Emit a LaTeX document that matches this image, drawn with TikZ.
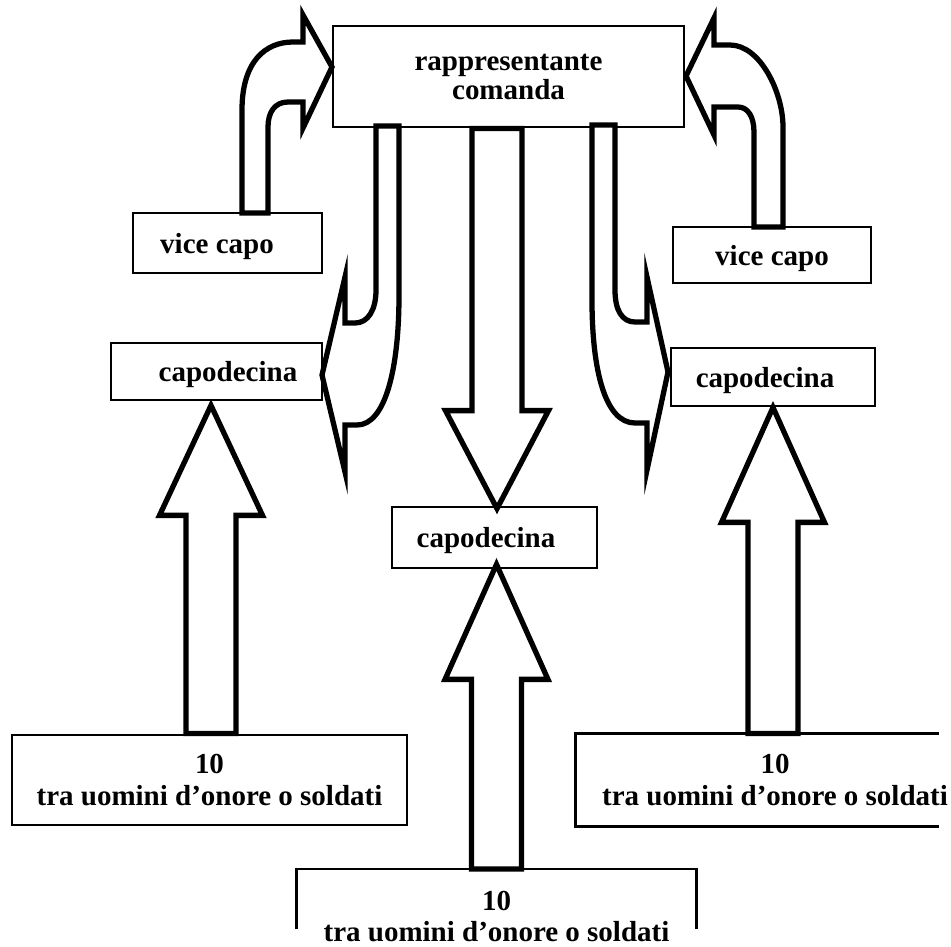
\documentclass[tikz,border=0pt]{standalone}
\usepackage{fontspec}
\setmainfont{Liberation Serif}
\usetikzlibrary{calc}

\tikzset{
  box/.style={draw, line width=1.6pt, inner sep=0pt, align=center, text depth=0pt,
    font=\bfseries\fontsize{16.5pt}{18pt}\selectfont},
  fat/.style={draw, fill=white, line width=3pt, line join=miter},
}
% straight block arrow: tail, tip, head length
\newcommand{\fatarrow}[3]{%
  \coordinate (hb) at ($(#2)!#3!(#1)$);
  \draw[fat] ($(#1)!0.5cm!90:(#2)$) -- ($(hb)!0.5cm!90:(#2)$) -- ($(hb)!1.03cm!90:(#2)$)
    -- (#2) -- ($(hb)!1.03cm!-90:(#2)$) -- ($(hb)!0.5cm!-90:(#2)$) -- ($(#1)!0.5cm!-90:(#2)$) -- cycle;
}

\begin{document}
\begin{tikzpicture}[x=0.02cm, y=-0.02cm]
  \useasboundingbox (0,0) rectangle (951,947);

  % boxes
  \node[box, minimum width=7.02cm, minimum height=2.02cm, font=\bfseries\fontsize{16.5pt}{16.5pt}\selectfont]
    (top) at (508.5,76.5) {rappresentante\\comanda};
  \node[box, minimum width=3.78cm, minimum height=1.2cm] (viceL) at (227.5,243) {vice capo\hspace*{0.42cm}};
  \node[box, minimum width=3.96cm, minimum height=1.12cm] (viceR) at (772,255) {vice capo};
  \node[box, minimum width=4.22cm, minimum height=1.14cm] (capL) at (216.5,371.5) {\hspace*{0.46cm}capodecina};
  \node[box, minimum width=4.1cm, minimum height=1.22cm] (capM) at (494.5,537.5) {capodecina\hspace*{0.34cm}};
  \node[box, minimum width=4.08cm, minimum height=1.16cm] (capR) at (773,377) {capodecina\hspace*{0.32cm}};
  \node[box, minimum width=7.9cm, minimum height=1.8cm] (botL) at (209.5,780) {10\\tra uomini d’onore o soldati};
  \node[box, draw=none, minimum width=7.92cm, minimum height=1.8cm] (botR) at (775,780) {10\\tra uomini d’onore o soldati};
  \draw[line width=1.6pt] (botR.north west) ++(363,0) -- (botR.north west) -- (botR.south west) -- ++(363,0);
  \node[box, draw=none, minimum width=7.94cm, minimum height=1.84cm, anchor=north] (botM) at (496.5,869) {10\\tra uomini d’onore o soldati};
  \draw[line width=1.6pt] (botM.north west) ++(0,60) -- (botM.north west) -- (botM.north east) -- ++(0,60);

  % curved arrows up to the top box
  \draw[fat] (242,213) -- (242,110) .. controls (242,62) and (265,42) .. (293,42) -- (303,42) -- (303,15)
    -- (332,67) -- (303,128) -- (303,102) -- (288,102) .. controls (275,102) and (268,112) .. (268,127) -- (268,213) -- cycle;
  \draw[fat] (783,227) -- (783,127) .. controls (783,92) and (760,45) .. (730,45) -- (714,45) -- (714,18)
    -- (686,76) -- (714,135) -- (714,107) -- (738,107) .. controls (748,107) and (754,117) .. (754,132) -- (754,227) -- cycle;

  % curved arrows down to the side capodecina
  \draw[fat] (376,126) -- (376,290) .. controls (376,310) and (368,323) .. (355,323) -- (345,323) -- (345,277)
    -- (322,375) -- (345,472) -- (345,425) -- (357,425) .. controls (385,425) and (399,370) .. (399,295) -- (399,126) -- cycle;
  \draw[fat] (615,125) -- (615,290) .. controls (615,310) and (622,322) .. (635,322) -- (647,322) -- (647,277)
    -- (668,372) -- (647,470) -- (647,423) -- (635,423) .. controls (605,423) and (592,370) .. (592,300) -- (592,125) -- cycle;

  % straight arrows
  \coordinate (tailD) at ($(top.south -| capM.north)+(2.5,0)$);
  \fatarrow{tailD}{$(capM.north)+(2.5,3)$}{1.96cm}
  \coordinate (tipL) at ($(capL.south -| botL.north)+(1.5,4)$);
  \fatarrow{$(botL.north)+(1.5,0)$}{tipL}{2.2cm}
  \coordinate (tipM) at ($(capM.south -| botM.north)+(0,-5)$);
  \fatarrow{botM.north}{tipM}{2.3cm}
  \coordinate (tailR) at (botR.north -| capR.south);
  \fatarrow{tailR}{capR.south}{2.3cm}
\end{tikzpicture}
\end{document}
